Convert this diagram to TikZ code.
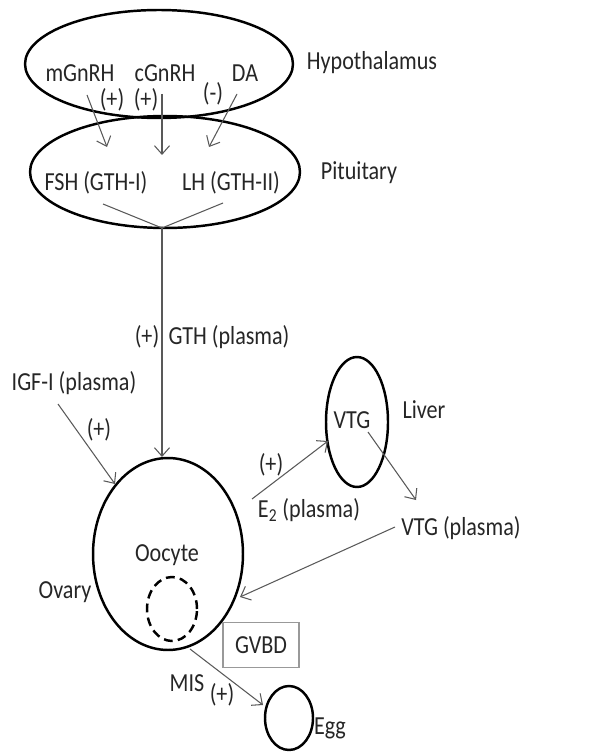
\documentclass[tikz,border=0pt]{standalone}
\usepackage{fontspec}
\setmainfont{Carlito}[FakeStretch=0.85]
\usetikzlibrary{arrows.meta, shapes.geometric}

\tikzset{
  organ/.style={draw, ellipse, line width=1.4pt, inner sep=0pt},
  lbl/.style={font=\fontsize{14.8}{17}\selectfont, text=black!85, inner sep=0pt},
  arr/.style={draw=black!65, line width=0.6pt, -{Straight Barb[length=1.7mm,width=3mm]}},
  ln/.style={draw=black!65, line width=0.6pt},
}

\begin{document}
\begin{tikzpicture}[x=0.02cm, y=-0.02cm]
\useasboundingbox (0,0) rectangle (615,753);
\node (hypo) at (159,64) [organ, minimum width=5.36cm, minimum height=2.16cm] {};
\node (pit) at (165,172) [organ, minimum width=5.4cm, minimum height=2.24cm] {};
\node (ovary) at (168,554) [organ, minimum width=3.0cm, minimum height=3.84cm] {};
\node (nucleus) at (172,609) [organ, dashed, dash pattern=on 5pt off 3pt, minimum width=1.0cm, minimum height=1.28cm] {};
\node (egg) at (289,718) [organ, minimum width=0.96cm, minimum height=1.28cm] {};
\node (liver) at (357,422) [organ, minimum width=1.24cm, minimum height=2.6cm] {};
\node (gvbd) at (261,645) [lbl, draw=black!40, line width=0.6pt, minimum width=1.52cm, minimum height=0.9cm] {GVBD};
\node (hypolbl) at (372,63) [lbl] {Hypothalamus};
\node (pitlbl) at (359,173) [lbl] {Pituitary};
\node (mgnrh) at (80,73) [lbl] {mGnRH};
\node (cgnrh) at (165,73) [lbl] {cGnRH};
\node (da) at (245,73) [lbl] {DA};
\node (mgplus) at (112,100) [lbl] {(+)};
\node (cgplus) at (146,100) [lbl] {(+)};
\node (daminus) at (213,94) [lbl] {(-)};
\node (fsh) at (96,183) [lbl] {FSH (GTH-I)};
\node (lh) at (231,183) [lbl] {LH (GTH-II)};
\node (gthplus) at (147,337) [lbl] {(+)};
\node (gthlbl) at (229,337) [lbl] {GTH (plasma)};
\node (igf) at (74,383) [lbl] {IGF-I (plasma)};
\node (igfplus) at (99,430) [lbl] {(+)};
\node (vtgin) at (352,420) [lbl] {VTG};
\node (liverlbl) at (424,410) [lbl] {Liver};
\node (e2plus) at (271,465) [lbl] {(+)};
\node (e2) at (309,510) [lbl] {E\textsubscript{2} (plasma)};
\node (vtgpl) at (461,528) [lbl] {VTG (plasma)};
\node (oocyte) at (167,555) [lbl] {Oocyte};
\node (ovarylbl) at (65,592) [lbl] {Ovary};
\node (mis) at (187,683) [lbl] {MIS};
\node (misplus) at (222,695) [lbl] {(+)};
\node (egglbl) at (330,728) [lbl] {Egg};
\coordinate (mg-s) at (87,95);
\coordinate (mg-e) at (107,147);
\coordinate (cg-s) at (162,94);
\coordinate (cg-e) at (162,155);
\coordinate (da-s) at (237,94);
\coordinate (da-e) at (209,147);
\coordinate (fsh-s) at (103,204);
\coordinate (lh-s) at (223,203);
\coordinate (gth) at (162,228);
\coordinate (ov-top) at (162,457);
\coordinate (igf-s) at (58,404);
\coordinate (ov-nw) at (115,484);
\coordinate (ov-ne) at (252,499);
\coordinate (liv-w) at (328,441);
\coordinate (vtg-s) at (368,432);
\coordinate (vtg-e) at (416,500);
\coordinate (vtgpl-w) at (395,527);
\coordinate (ov-e) at (240,597);
\coordinate (ov-s) at (190,649);
\coordinate (egg-nw) at (263,705);
\draw [arr] (mg-s) -- (mg-e);
\draw [arr] (cg-s) -- (cg-e);
\draw [arr] (da-s) -- (da-e);
\draw [ln] (fsh-s) -- (gth) -- (lh-s);
\draw [arr] (gth) -- (ov-top);
\draw [arr] (igf-s) -- (ov-nw);
\draw [arr] (ov-ne) -- (liv-w);
\draw [arr] (vtg-s) -- (vtg-e);
\draw [arr] (vtgpl-w) -- (ov-e);
\draw [arr] (ov-s) -- (egg-nw);
\end{tikzpicture}
\end{document}
